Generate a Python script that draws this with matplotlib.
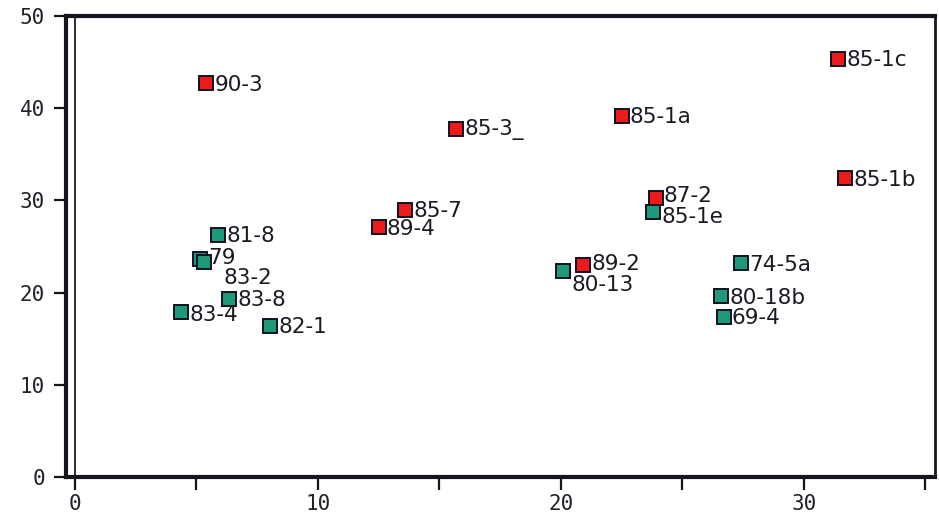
import matplotlib
matplotlib.use("Agg")
import matplotlib.pyplot as plt

# sample points: label, x, y, group
red_labels = ["90-3", "85-1c", "85-3_", "85-1a", "85-1b", "87-2", "85-7", "89-4", "89-2"]
red_x = [5.39, 31.4, 15.7, 22.5, 31.7, 23.9, 13.6, 12.5, 20.9]
red_y = [42.7, 45.4, 37.8, 39.2, 32.4, 30.3, 29.0, 27.1, 23.0]

green_labels = ["85-1e", "81-8", "79", "83-2", "83-8", "83-4", "82-1",
                "80-13", "74-5a", "80-18b", "69-4"]
green_x = [23.8, 5.88, 5.14, 5.3, 6.34, 4.36, 8.02, 20.1, 27.4, 26.6, 26.7]
green_y = [28.7, 26.3, 23.6, 23.3, 19.3, 17.9, 16.4, 22.3, 23.2, 19.6, 17.4]

x_ticks = [0, 10, 20, 30]
y_ticks = [0, 10, 20, 30, 40, 50]

RED = "#ec1a1a"
GREEN = "#1f9a78"

fig = plt.figure(figsize=(9.39, 5.21), dpi=100)
ax = fig.add_axes([0.0703, 0.0845, 0.9254, 0.8845])

ax.plot(green_x, green_y, "s", ms=10, mfc=GREEN, mec="#111122", mew=1.4, zorder=3)
ax.plot(red_x, red_y, "s", ms=10, mfc=RED, mec="#111122", mew=1.4, zorder=4)

# label offsets in points, mostly just right of the marker
def put_labels(labels, xs, ys, shifts, z):
    for lab, x, y in zip(labels, xs, ys):
        dx, dy = shifts.get(lab, (6, -1))
        ax.annotate(lab, (x, y), xytext=(dx, dy), textcoords="offset points",
                    ha="left", va="center", fontsize=15.5, color="#1a1a22",
                    family="DejaVu Sans", zorder=z)

put_labels(red_labels, red_x, red_y, {"87-2": (6, 1), "89-2": (6, 1)}, 6)
put_labels(green_labels, green_x, green_y,
           {"79": (6, 1), "83-2": (14, -11), "80-13": (6, -10), "85-1e": (6, -3),
            "83-4": (6, -2)}, 5)

ax.axvline(0, color="#1a1a22", lw=1.3, zorder=2)

ax.set_xlim(-0.37, 35.4)
ax.set_ylim(0, 50)
ax.set_xticks(x_ticks)
ax.set_xticks([5, 15, 25, 35], minor=True)
ax.set_yticks(y_ticks)
for s in ax.spines.values():
    s.set_linewidth(3.0)
    s.set_color("#15151f")
ax.spines["right"].set_linewidth(2.0)
ax.tick_params(axis="both", which="both", direction="out", length=9, width=1.6,
               color="#15151f", labelsize=15, pad=6)
ax.tick_params(axis="x", which="major", pad=3)
for t in ax.get_xticklabels() + ax.get_yticklabels():
    t.set_family("DejaVu Sans Mono")
    t.set_color("#22222a")

fig.savefig("out.png", dpi=100)
